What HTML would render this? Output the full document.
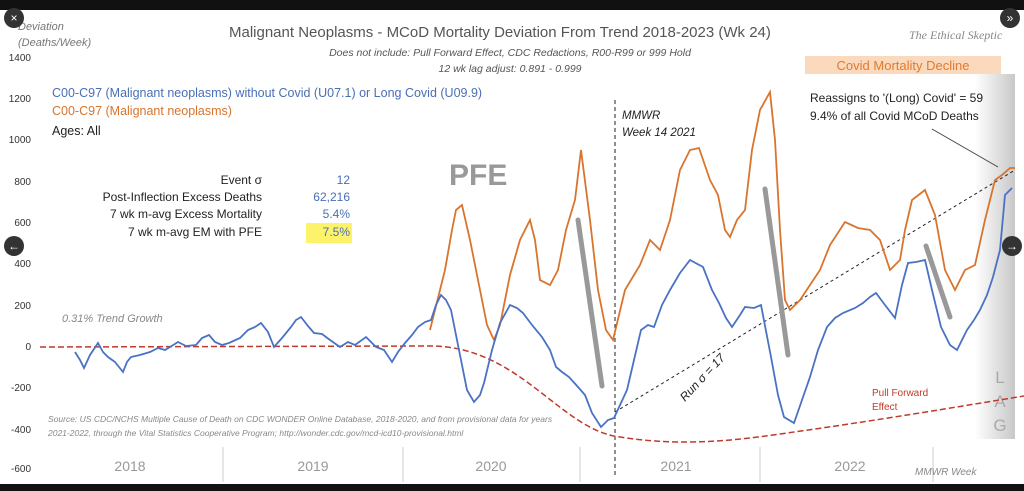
<!DOCTYPE html><html><head><style>body{margin:0;background:#fff}svg{display:block}</style></head><body>
<svg width="1024" height="491" xmlns="http://www.w3.org/2000/svg" font-family="Liberation Sans, sans-serif">
<defs><linearGradient id="lg" x1="0" x2="1"><stop offset="0" stop-color="#fff"/><stop offset="1" stop-color="#c8c8c8"/></linearGradient></defs>
<rect width="1024" height="491" fill="#fff"/>
<rect width="1024" height="10" fill="#111"/>
<rect y="484" width="1024" height="7" fill="#111"/>
<rect x="805" y="56" width="196" height="18" fill="#fbd9bd"/>
<text x="903" y="70" font-size="13" fill="#e07a30" text-anchor="middle">Covid Mortality Decline</text>
<rect x="975" y="74" width="40" height="365" fill="url(#lg)"/>
<text x="1000" y="383" font-size="17" fill="#aaa" text-anchor="middle">L</text>
<text x="1000" y="407" font-size="17" fill="#aaa" text-anchor="middle">A</text>
<text x="1000" y="431" font-size="17" fill="#aaa" text-anchor="middle">G</text>
<g font-size="10" fill="#333" text-anchor="end"><text x="31" y="61">1400</text><text x="31" y="102">1200</text><text x="31" y="143">1000</text><text x="31" y="185">800</text><text x="31" y="226">600</text><text x="31" y="267">400</text><text x="31" y="309">200</text><text x="31" y="350">0</text><text x="31" y="391">-200</text><text x="31" y="433">-400</text><text x="31" y="472">-600</text></g>
<text x="18" y="30" font-size="11" font-style="italic" fill="#777">Deviation</text>
<text x="18" y="46" font-size="11" font-style="italic" fill="#777">(Deaths/Week)</text>
<text x="229" y="37" font-size="15" fill="#555">Malignant Neoplasms - MCoD Mortality Deviation  From Trend  2018-2023 (Wk 24)</text>
<text x="510" y="56" font-size="10.5" font-style="italic" fill="#555" text-anchor="middle">Does not include: Pull Forward Effect,  CDC Redactions, R00-R99 or 999 Hold</text>
<text x="510" y="72" font-size="10.5" font-style="italic" fill="#555" text-anchor="middle">12 wk lag adjust: 0.891 - 0.999</text>
<text x="909" y="39" font-size="12" font-style="italic" font-family="Liberation Serif, serif" fill="#888">The Ethical Skeptic</text>
<text x="52" y="97" font-size="12.5" fill="#4a6fb5">C00-C97 (Malignant neoplasms) without Covid (U07.1) or Long Covid (U09.9)</text>
<text x="52" y="115" font-size="12.5" fill="#d9742e">C00-C97 (Malignant neoplasms)</text>
<text x="52" y="135" font-size="12.5" fill="#222">Ages: All</text>
<g font-size="12" fill="#222" text-anchor="end"><text x="262" y="184">Event σ</text><text x="262" y="201">Post-Inflection Excess Deaths</text><text x="262" y="218">7 wk m-avg Excess Mortality</text><text x="262" y="236">7 wk m-avg EM  with PFE</text></g>
<rect x="306" y="223" width="46" height="20" fill="#fdf36b"/>
<g font-size="12" fill="#4a6fb5" text-anchor="end"><text x="350" y="184">12</text><text x="350" y="201">62,216</text><text x="350" y="218">5.4%</text><text x="350" y="236">7.5%</text></g>
<text x="449" y="185" font-size="30" font-weight="bold" fill="#999">PFE</text>
<text x="62" y="322" font-size="11" font-style="italic" fill="#888">0.31% Trend Growth</text>
<text x="622" y="119" font-size="11.5" font-style="italic" fill="#222">MMWR</text>
<text x="622" y="136" font-size="11.5" font-style="italic" fill="#222">Week 14 2021</text>
<text x="810" y="102" font-size="12" fill="#222">Reassigns to '(Long) Covid' = 59</text>
<text x="810" y="120" font-size="12" fill="#222">9.4% of all Covid MCoD Deaths</text>
<line x1="932" y1="129" x2="998" y2="167" stroke="#444" stroke-width="1"/>
<text x="872" y="396" font-size="10" fill="#c0392b">Pull Forward</text>
<text x="872" y="410" font-size="10" fill="#c0392b">Effect</text>
<text x="48" y="422" font-size="8.5" font-style="italic" fill="#888">Source: US CDC/NCHS Multiple Cause of Death on CDC WONDER Online Database, 2018-2020, and from provisional data for years</text>
<text x="48" y="436" font-size="8.5" font-style="italic" fill="#888">2021-2022, through the Vital Statistics Cooperative Program; http://wonder.cdc.gov/mcd-icd10-provisional.html</text>
<g stroke="#ccc" stroke-width="1"><line x1="223" y1="447" x2="223" y2="482"/><line x1="403" y1="447" x2="403" y2="482"/><line x1="580" y1="447" x2="580" y2="482"/><line x1="760" y1="447" x2="760" y2="482"/><line x1="933" y1="447" x2="933" y2="482"/></g>
<g font-size="14" fill="#999" text-anchor="middle"><text x="130" y="471">2018</text><text x="313" y="471">2019</text><text x="491" y="471">2020</text><text x="676" y="471">2021</text><text x="850" y="471">2022</text></g>
<text x="915" y="475" font-size="10" font-style="italic" fill="#888">MMWR Week</text>
<line x1="615" y1="100" x2="615" y2="478" stroke="#222" stroke-dasharray="4,3" stroke-width="1"/>
<path d="M40,347 L430,346 C520,346 560,430 620,437 C670,445 720,443 780,434 C880,420 950,408 1024,396" fill="none" stroke="#c0392b" stroke-width="1.5" stroke-dasharray="6,3"/>
<line x1="615" y1="412" x2="1015" y2="170" stroke="#222" stroke-width="1" stroke-dasharray="3,3"/>
<text x="0" y="0" font-size="12" font-style="italic" fill="#222" transform="translate(685,402) rotate(-47)">Run σ = 17</text>
<polyline fill="none" stroke="#d9742e" stroke-width="1.8" points="430,330 445,270 452,230 456,210 462,205 470,240 478,280 487,325 494,340 500,325 510,275 520,240 530,220 535,240 540,280 550,285 558,270 566,230 575,200 581,150 590,220 598,290 606,330 613,340 625,290 640,265 650,240 660,250 670,220 680,170 690,150 699,148 710,180 718,195 725,230 730,237 737,220 745,210 752,150 760,110 770,92 775,140 780,230 785,300 790,310 800,300 810,285 820,270 830,245 845,222 858,228 870,230 880,240 890,270 900,260 905,230 912,200 925,190 935,215 945,270 955,290 965,270 975,265 985,220 995,180 1002,175 1010,168 1015,168"/>
<polyline fill="none" stroke="#4a72c4" stroke-width="1.8" points="75,352 80,360 84,368 90,355 98,343 103,352 108,357 115,362 123,372 127,362 131,357 140,355 150,352 158,348 165,350 170,347 178,342 186,346 196,345 202,338 209,335 215,342 222,345 229,343 240,338 248,330 255,327 261,323 268,332 274,347 282,338 291,327 296,320 301,317 308,326 314,333 322,334 330,340 340,347 348,342 355,345 366,337 371,342 376,347 384,350 392,362 398,352 405,343 412,335 418,327 425,322 431,320 436,305 441,295 446,300 451,310 457,340 467,390 474,402 480,395 484,383 492,350 500,323 510,305 517,308 523,313 532,325 542,337 550,350 556,367 562,372 569,377 578,387 585,395 592,413 601,427 608,420 614,418 627,390 634,360 641,330 648,325 654,327 662,305 670,290 680,273 690,260 703,267 712,290 719,303 726,318 732,327 740,315 745,307 754,308 761,305 771,357 778,395 784,417 794,423 802,400 810,377 818,350 827,327 835,318 843,313 855,308 863,303 870,297 876,293 885,305 895,318 902,285 908,263 916,262 925,260 932,290 941,327 950,345 957,350 967,330 974,320 980,310 987,295 993,277 1000,250 1005,195 1012,188"/>
<g stroke="#999" stroke-width="5" stroke-linecap="round"><line x1="578" y1="220" x2="602" y2="386"/><line x1="765" y1="189" x2="788" y2="355"/><line x1="926" y1="246" x2="950" y2="317"/></g>
<circle cx="14" cy="18" r="10" fill="#333"/><text x="14" y="22" font-size="12" fill="#fff" text-anchor="middle">×</text>
<circle cx="14" cy="246" r="10" fill="#333"/><text x="14" y="250" font-size="12" fill="#fff" text-anchor="middle">←</text>
<circle cx="1012" cy="246" r="10" fill="#333"/><text x="1012" y="250" font-size="12" fill="#fff" text-anchor="middle">→</text>
<circle cx="1010" cy="18" r="10" fill="#333"/><text x="1010" y="22" font-size="12" fill="#fff" text-anchor="middle">»</text>
</svg></body></html>
